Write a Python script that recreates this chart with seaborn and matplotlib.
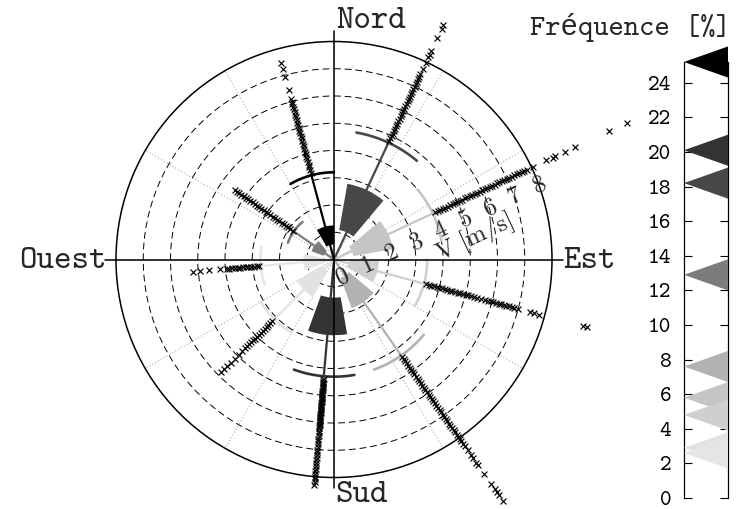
import numpy as np
import matplotlib
matplotlib.use("Agg")
import matplotlib.pyplot as plt
from matplotlib import transforms
import seaborn as sns
import pandas as pd

sns.set_theme(style="white")
plt.rcParams['font.family'] = ['cmtt10', 'Liberation Mono', 'DejaVu Sans Mono']
plt.rcParams['axes.unicode_minus'] = False
plt.rcParams['mathtext.fontset'] = 'cm'

# ---- wind rose statistics per sector (bearing in degrees, clockwise from north)
directions = [25, 65, 105, 145, 185, 225, 265, 305, 345]
frequency = [18.2, 5.8, 4.8, 7.6, 20.1, 2.9, 2.6, 12.9, 25.2]   # %
q1 = [1.10, 0.72, 0.55, 0.72, 1.40, 0.47, 0.30, 0.40, 0.55]      # m/s
q3 = [2.82, 2.20, 1.65, 1.90, 2.78, 1.57, 1.13, 0.88, 1.25]      # m/s
whisker = [4.73, 4.00, 3.42, 4.30, 4.30, 3.10, 2.70, 1.80, 3.20]  # m/s

# speeds beyond the whisker, per sector
out_025 = [4.8, 4.9, 5.0, 5.1, 5.2, 5.3, 5.4, 5.5, 5.6, 5.7, 5.8, 5.9, 6.0, 6.1,
           6.2, 6.3, 6.4, 6.5, 6.6, 6.7, 6.8, 6.9, 7.0, 7.1, 7.2, 7.3, 7.4, 7.5,
           7.7, 7.95, 8.2, 8.3, 8.45, 8.95, 9.35, 9.5]
out_065 = [4.1, 4.2, 4.3, 4.4, 4.5, 4.6, 4.7, 4.8, 4.9, 5.0, 5.1, 5.2, 5.3, 5.4,
           5.5, 5.6, 5.7, 5.8, 5.9, 6.0, 6.1, 6.2, 6.3, 6.4, 6.5, 6.6, 6.7, 6.8,
           6.9, 7.0, 7.1, 7.2, 7.3, 7.4, 7.5, 7.6, 7.7, 7.8,
           8.05, 8.6, 8.85, 8.95, 9.35, 9.75, 11.15, 11.85]
out_105 = [3.5, 3.6, 3.7, 3.8, 3.9, 4.0, 4.1, 4.2, 4.3, 4.4, 4.5, 4.6, 4.7, 4.8,
           4.9, 5.0, 5.1, 5.2, 5.3, 5.45, 5.6,
           5.75, 5.85, 5.95, 6.05, 6.15, 6.25, 6.35, 6.45, 6.55, 6.65, 6.75, 6.85, 7.0,
           7.45, 7.6, 7.8, 9.45, 9.6]
out_145 = [4.35, 4.45, 4.55, 4.65, 4.75, 4.85, 4.95, 5.05, 5.15, 5.25, 5.35, 5.45,
           5.55, 5.65, 5.75, 5.85, 5.95, 6.05, 6.15, 6.25, 6.35, 6.45, 6.55, 6.65,
           6.75, 6.85, 6.95, 7.05, 7.15, 7.25, 7.35, 7.45, 7.55, 7.65, 7.75, 7.85,
           7.95, 8.05, 8.15, 8.25, 8.35,
           8.55, 8.75, 8.9, 9.1, 9.2, 9.6, 10.05, 10.3, 10.4, 10.55, 10.8]
out_185 = [4.4, 4.45, 4.5, 4.55, 4.6, 4.65, 4.7, 4.75, 4.8, 4.85, 4.9, 4.95, 5.0,
           5.05, 5.1, 5.15, 5.2, 5.25, 5.3, 5.35, 5.4, 5.45, 5.5, 5.55, 5.6, 5.65,
           5.7, 5.75, 5.8, 5.85, 5.9, 5.95, 6.0, 6.05, 6.1, 6.15, 6.2,
           6.3, 6.4, 6.5, 6.6, 6.7, 6.8, 6.9, 7.0, 7.1, 7.2, 7.3, 7.4, 7.5, 7.6,
           7.7, 7.8, 7.9, 8.0, 8.1, 8.2, 8.3]
out_225 = [3.2, 3.3, 3.4, 3.5, 3.6, 3.7, 3.8, 3.9, 4.0, 4.1, 4.2, 4.3, 4.4, 4.5, 4.6,
           4.75, 4.95, 5.15, 5.35, 5.55, 5.7, 5.85]
out_265 = [2.75, 2.85, 2.95, 3.05, 3.15, 3.25, 3.35, 3.45, 3.55, 3.65, 3.75, 3.85,
           3.95, 4.2, 4.6, 4.95, 5.2]
out_305 = [1.85, 1.95, 2.05, 2.15, 2.25, 2.35, 2.45, 2.55, 2.65, 2.75, 2.85, 2.95,
           3.05, 3.15, 3.25, 3.35, 3.45, 3.55, 3.65, 3.75, 3.85, 3.95, 4.05, 4.15,
           4.25, 4.35, 4.45]
out_345 = [3.3, 3.4, 3.5, 3.6, 3.7, 3.8, 3.9, 4.0, 4.1, 4.2, 4.3, 4.4, 4.5, 4.6,
           4.7, 4.8, 4.9, 5.0, 5.1, 5.2, 5.3, 5.4, 5.5, 5.6, 5.7, 5.8, 5.9, 6.0, 6.1,
           6.45, 6.95, 7.25, 7.45]
outliers = [out_025, out_065, out_105, out_145, out_185,
            out_225, out_265, out_305, out_345]

speed_ticks = [0, 1, 2, 3, 4, 5, 6, 7, 8]
freq_ticks = [0, 2, 4, 6, 8, 10, 12, 14, 16, 18, 20, 22, 24]
compass = {"Nord": 0, "Est": 90, "Sud": 180, "Ouest": 270}

# ---- figure
fig = plt.figure(figsize=(7.40, 5.09), dpi=100)
W, H = 740, 509
cx, cy, R = 334, 259.5, 218
ax = fig.add_axes([(cx - R) / W, (H - cy - R) / H, 2 * R / W, 2 * R / H],
                  projection="polar")
ax.set_theta_zero_location("N")
ax.set_theta_direction(-1)
ax.set_ylim(0, 8)
ax.set_thetagrids(list(range(0, 360, 30)), labels=[])
ax.set_rgrids([1, 2, 3, 4, 5, 6, 7], labels=[])
ax.xaxis.grid(True, color="#bdbdbd", linestyle=":", linewidth=0.9)
ax.yaxis.grid(True, color="black", linestyle=(0, (7, 4)), linewidth=0.7)
ax.set_axisbelow(True)
ax.spines["polar"].set_color("black")
ax.spines["polar"].set_linewidth(1.1)

cmap = plt.get_cmap("gray_r")
norm = plt.Normalize(0, max(frequency))
theta = np.deg2rad(directions)
half = np.deg2rad(15)
sector_colors = [cmap(norm(f)) for f in frequency]

# boxes
ax.bar(theta, np.array(q3) - np.array(q1), width=2 * half, bottom=q1,
       color=sector_colors, edgecolor="none", zorder=2)

# whiskers and caps
for th, wk, col in zip(theta, whisker, sector_colors):
    ax.plot([th, th], [0, wk], color=col, linewidth=1.6, zorder=2.5,
            solid_capstyle="butt")
    arc = np.linspace(th - half, th + half, 40)
    ax.plot(arc, np.full_like(arc, wk), color=col, linewidth=1.9, zorder=2.5)

# outliers
df = pd.DataFrame({
    "theta": np.concatenate([[t] * len(o) for t, o in zip(theta, outliers)]),
    "speed": np.concatenate(outliers),
})
sns.scatterplot(data=df, x="theta", y="speed", marker="x", color="black",
                s=18, linewidth=0.85, ax=ax, legend=False, zorder=4)
ax.collections[-1].set_clip_on(False)
ax.set_xlabel("")
ax.set_ylabel("")
ax.set_ylim(0, 8)

# compass axes
for name, deg in compass.items():
    ax.plot([np.deg2rad(deg)] * 2, [0, 8.4], color="black", linewidth=1.1,
            zorder=3, clip_on=False)

# speed scale along the 65 deg ray
ang = np.deg2rad(25)
for k in speed_ticks:
    tr = transforms.offset_copy(ax.transData, fig=fig,
                                x=21 * np.sin(ang), y=-21 * np.cos(ang), units="dots")
    ax.text(np.deg2rad(65), k, "$\\mathrm{%d}$" % k, transform=tr, rotation=25,
            rotation_mode="anchor", ha="center", va="center",
            fontsize=18, zorder=5, clip_on=False)
tr = transforms.offset_copy(ax.transData, fig=fig,
                            x=39 * np.sin(ang), y=-39 * np.cos(ang), units="dots")
ax.text(np.deg2rad(65), 5, "$\\mathrm{V\\ [m/s]}$", transform=tr, rotation=25,
        rotation_mode="anchor", ha="center", va="center",
        fontsize=18, zorder=5, clip_on=False)

# compass labels
fig.text(336 / W, 1 - 21 / H, "Nord", ha="left", va="center", fontsize=24)
fig.text(335 / W, 1 - 495 / H, "Sud", ha="left", va="center", fontsize=24)
fig.text(563 / W, 1 - 261 / H, "Est", ha="left", va="center", fontsize=24)
fig.text(107 / W, 1 - 261 / H, "Ouest", ha="right", va="center", fontsize=24)

# ---- frequency scale
cax = fig.add_axes([684 / W, (H - 498) / H, 44 / W, (498 - 62) / H])
cax.set_xlim(0, 1)
cax.set_ylim(0, max(frequency))
for f, col in zip(frequency, sector_colors):
    cax.fill([0, 1, 1], [f, f + 0.9, f - 0.9], color=col, linewidth=0,
             clip_on=False, zorder=3)
cax.set_xticks([])
cax.set_yticks(freq_ticks)
cax.set_yticklabels([str(t) for t in freq_ticks], fontsize=16)
cax.tick_params(axis="y", direction="in", left=True, right=True, length=5.5,
                width=0.8, pad=9, colors="black")
for side in ("top", "bottom"):
    cax.spines[side].set_visible(False)
for side in ("left", "right"):
    cax.spines[side].set_color("black")
    cax.spines[side].set_linewidth(0.9)
fig.text(630 / W, 1 - 28 / H, "Fréquence [%]", ha="center", va="center",
         fontsize=21)

fig.savefig("out.png", dpi=100)
